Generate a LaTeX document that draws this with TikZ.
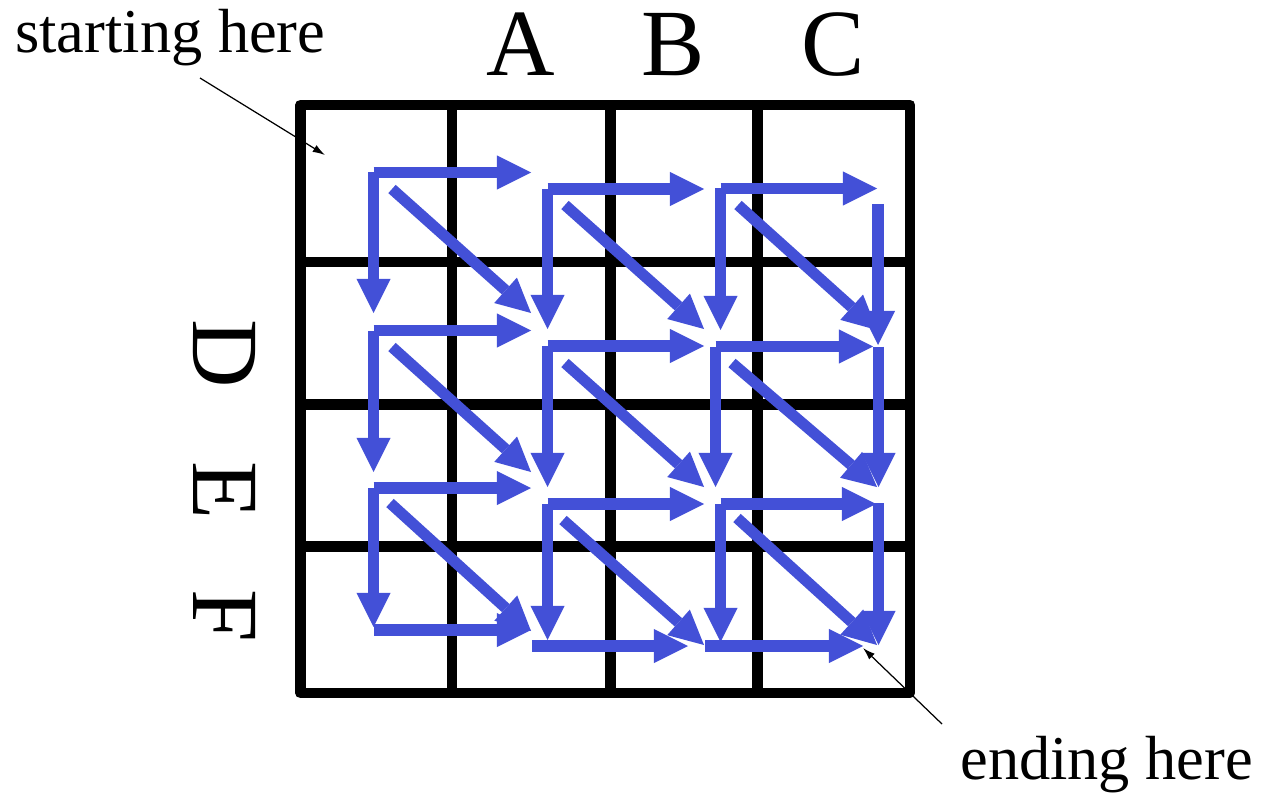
\documentclass[tikz,border=0pt]{standalone}
\usepackage{fontspec}
\setmainfont{Liberation Serif}
\usepackage{xcolor}
\usetikzlibrary{arrows.meta}
\definecolor{flowblue}{RGB}{67,80,215}
\tikzset{
    gridline/.style={draw=black, line width=6.2pt, line join=round},
    flow/.style={draw=flowblue, line width=6.3pt,
    -{Triangle[length=19.4pt, width=19.4pt, line width=0pt]}},
    pointer/.style={draw=black, line width=0.7pt, -{Latex[length=7pt, width=4.5pt]}},
    letter/.style={font=\fontsize{54}{60}\selectfont, inner sep=0pt, anchor=base},
    note/.style={font=\fontsize{35.5}{40}\selectfont, inner sep=0pt, anchor=base west},
}

\begin{document}
\begin{tikzpicture}[x=0.02cm, y=-0.02cm]
            \useasboundingbox (0,0) rectangle (1262,794);
            % --- grid ---
            \draw[gridline] (300.5,105) rectangle (910,693);
            \draw[gridline] (452,105) -- (452,693);
            \draw[gridline] (610.5,105) -- (610.5,693);
            \draw[gridline] (757.5,105) -- (757.5,693);
            \draw[gridline] (300.5,262) -- (910,262);
            \draw[gridline] (300.5,404.5) -- (910,404.5);
            \draw[gridline] (300.5,546.5) -- (910,546.5);
            % --- letters ---
            \node[letter] (colA) at (521,76) {A};
            \node[letter] (colB) at (673,76) {B};
            \node[letter] (colC) at (833,76) {C};
            \node[letter, rotate=-90] (rowD) at (193,354) {D};
            \node[letter, rotate=-90] (rowE) at (193,490) {E};
            \node[letter, rotate=-90] (rowF) at (193,616) {F};
            % --- notes ---
            \node[note] (startnote) at (15,53) {starting here};
            \node[note] (endnote) at (960,779) {ending here};
            \coordinate (startfrom) at (200,78);
            \coordinate (startat) at (325,155);
            \coordinate (endfrom) at (942,724);
            \coordinate (endat) at (863,648);
            \draw[pointer] (startfrom) -- (startat);
            \draw[pointer] (endfrom) -- (endat);
            % --- first row of cells ---
            \coordinate (p00) at (373.5,172.5); \coordinate (r00) at (531,172.5);
            \coordinate (d00) at (373.5,313);   \coordinate (s00) at (392,189);
            \coordinate (t00) at (531,313);
            \coordinate (p10) at (547.5,189);   \coordinate (r10) at (704,189);
            \coordinate (d10) at (547.5,329);   \coordinate (s10) at (565,205);
            \coordinate (t10) at (704,329);
            \coordinate (p20) at (720.5,188.5); \coordinate (r20) at (877,188.5);
            \coordinate (d20) at (720.5,330);   \coordinate (s20) at (738,205);
            \coordinate (t20) at (877,330);
            \coordinate (v0a) at (878,204);     \coordinate (v0b) at (878,345);
            % --- second row of cells ---
            \coordinate (p01) at (373.5,330.5); \coordinate (r01) at (531,330.5);
            \coordinate (d01) at (373.5,472);   \coordinate (s01) at (392,347);
            \coordinate (t01) at (531,472);
            \coordinate (p11) at (547.5,346);   \coordinate (r11) at (704,346);
            \coordinate (d11) at (547.5,487);   \coordinate (s11) at (565,363);
            \coordinate (t11) at (704,487);
            \coordinate (p21) at (715.5,346.5); \coordinate (r21) at (873,346.5);
            \coordinate (d21) at (715.5,487);   \coordinate (s21) at (732,363);
            \coordinate (t21) at (877,487);
            \coordinate (v1a) at (878.5,346.5); \coordinate (v1b) at (878.5,487);
            % --- third row of cells ---
            \coordinate (p02) at (373.5,488);   \coordinate (r02) at (531,488);
            \coordinate (d02) at (373.5,627);   \coordinate (s02) at (390,503);
            \coordinate (t02) at (531,631);
            \coordinate (p12) at (547.5,504);   \coordinate (r12) at (704,504);
            \coordinate (d12) at (547.5,640);   \coordinate (s12) at (563,520);
            \coordinate (t12) at (704,645);
            \coordinate (p22) at (720.5,504);   \coordinate (r22) at (876,504);
            \coordinate (d22) at (720.5,642);   \coordinate (s22) at (737,518);
            \coordinate (t22) at (877,645);
            \coordinate (v2a) at (878.5,503);   \coordinate (v2b) at (878.5,645);
            % --- bottom edge ---
            \coordinate (h0a) at (373.5,630);   \coordinate (h0b) at (531,630);
            \coordinate (h1a) at (532,646);     \coordinate (h1b) at (688,646);
            \coordinate (h2a) at (705,646);     \coordinate (h2b) at (863,646);
            % --- arrows ---
            \draw[flow] (s00) -- (t00); \draw[flow] (p00) -- (r00); \draw[flow] (p00) -- (d00);
            \draw[flow] (s10) -- (t10); \draw[flow] (p10) -- (r10); \draw[flow] (p10) -- (d10);
            \draw[flow] (s20) -- (t20); \draw[flow] (p20) -- (r20); \draw[flow] (p20) -- (d20);
            \draw[flow] (s01) -- (t01); \draw[flow] (p01) -- (r01); \draw[flow] (p01) -- (d01);
            \draw[flow] (s11) -- (t11); \draw[flow] (p11) -- (r11); \draw[flow] (p11) -- (d11);
            \draw[flow] (s21) -- (t21); \draw[flow] (p21) -- (r21); \draw[flow] (p21) -- (d21);
            \draw[flow] (s02) -- (t02); \draw[flow] (p02) -- (r02); \draw[flow] (p02) -- (d02);
            \draw[flow] (s12) -- (t12); \draw[flow] (p12) -- (r12); \draw[flow] (p12) -- (d12);
            \draw[flow] (s22) -- (t22); \draw[flow] (p22) -- (r22); \draw[flow] (p22) -- (d22);
            \draw[flow] (v0a) -- (v0b); \draw[flow] (v1a) -- (v1b); \draw[flow] (v2a) -- (v2b);
            \draw[flow] (h0a) -- (h0b); \draw[flow] (h1a) -- (h1b); \draw[flow] (h2a) -- (h2b);
\end{tikzpicture}
\end{document}
